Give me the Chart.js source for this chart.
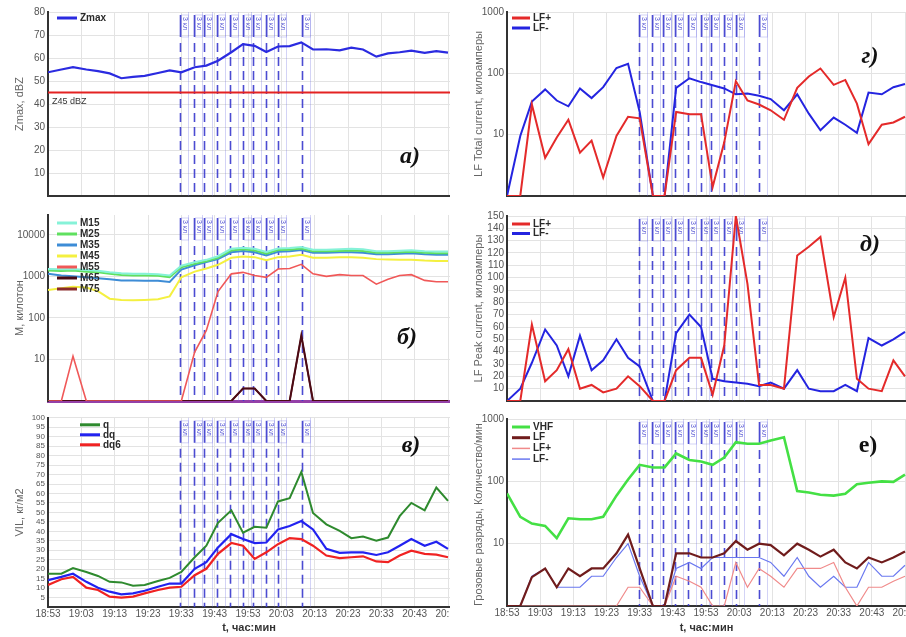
<!DOCTYPE html>
<html><head><meta charset="utf-8">
<script src="https://cdn.jsdelivr.net/npm/chart.js@4.4.1/dist/chart.umd.min.js"></script>
<style>
html,body{margin:0;padding:0;background:#fff;}
body{width:906px;height:637px;position:relative;overflow:hidden;}
.pane{position:absolute;overflow:hidden;background:#fff;}
.pane canvas{display:block;}
</style></head><body>
<div class="pane" style="left:0;top:0;width:450px;height:205px"><canvas id="cA" width="480" height="205"></canvas></div>
<div class="pane" style="left:0;top:206px;width:450px;height:204px"><canvas id="cB" width="480" height="204"></canvas></div>
<div class="pane" style="left:0;top:410px;width:450px;height:227px"><canvas id="cV" width="480" height="227"></canvas></div>
<div class="pane" style="left:459px;top:0;width:447px;height:205px"><canvas id="cG" width="480" height="205"></canvas></div>
<div class="pane" style="left:459px;top:206px;width:447px;height:204px"><canvas id="cD" width="480" height="204"></canvas></div>
<div class="pane" style="left:459px;top:410px;width:447px;height:227px"><canvas id="cE" width="480" height="227"></canvas></div>
<script>
// minutes after 18:53
const times=[0,4,7.5,11.5,15,18.5,22,25.5,29,33,36.5,40,44,47.5,51,55,58.5,62,65.5,69,72.5,76,79.5,83.5,87.5,91,94.5,98.5,102,105.5,109,113,116.5,120];
const tickLabels=['18:53','19:03','19:13','19:23','19:33','19:43','19:53','20:03','20:13','20:23','20:33','20:43','20:53'];
const events=[39.7,43.7,46.9,50.6,54.6,58.6,61.6,65.4,69.0,76.1];
const eventText='3 кл';

const zmax=[53.8,55,56,55,54.3,53.3,51.2,51.8,52.2,53.5,54.6,53.8,56,56.7,58.8,62.5,66,65.3,62.6,65,65.2,66.8,63.7,63.8,63.3,64.5,63.7,60.6,62,62.5,63.2,62.2,63,62.3];
const z45=45;

const m15=[1500,1480,1500,1420,1370,1260,1190,1150,1150,1130,1050,1800,2200,2500,3050,4600,4900,4600,3850,4700,4800,5100,4400,4400,4500,4600,4500,4050,4050,4150,4250,4050,3950,3950];
const m25=[1380,1350,1380,1300,1250,1150,1080,1050,1050,1030,960,1650,2000,2300,2800,4200,4500,4200,3500,4300,4400,4700,4000,4000,4100,4200,4100,3700,3700,3800,3900,3700,3600,3600];
const m35=[1150,1050,1000,950,900,850,800,790,780,780,730,1450,1850,2200,2600,3800,4100,3800,3200,3900,4000,4300,3700,3700,3800,3800,3700,3400,3400,3500,3600,3400,3300,3300];
const m45=[470,520,560,540,440,290,270,265,270,280,330,950,1300,1550,1900,2800,3000,2900,2450,2900,3000,3300,2800,2800,2900,2900,2800,2600,2550,2500,2500,2400,2350,2350];
const m55=[1,1,12,1,1,1,1,1,1,1,1,1,15,50,430,1150,1250,1050,950,1500,1550,1950,1150,1000,1100,1050,1050,650,850,1050,1100,800,740,740];
const m65=[1,1,1,1,1,1,1,1,1,1,1,1,1,1,1,1,2,2,1,1,1,38,1,1,1,1,1,1,1,1,1,1,1,1];
const m75=[1,1,1,1,1,1,1,1,1,1,1,1,1,1,1,1,2,2,1,1,1,36,1,1,1,1,1,1,1,1,1,1,1,1];

const vilQ=[17.6,17.6,20.6,18.5,16.4,13.3,13,11.2,11.6,13.7,15.4,18.5,26.3,32.4,44.5,51.1,39.3,42.4,41.9,55.8,57.5,71.4,49.7,43.7,40.2,36.4,37.2,35,36.7,48,55,51.1,63.1,56.1];
const vilDq=[14.2,15.9,17.6,13.3,10.2,8.1,6.7,7.2,8.6,10.7,12.4,12.4,20.2,23.7,31.5,38.5,35.9,33.8,34.1,41,42.8,45.4,41,30.7,28.6,28.9,28.9,27.5,28.9,32.4,35.9,32.4,34.5,30.7];
const vilDq6=[11.6,14.7,15.9,10.2,9,5.5,5,5.5,7.2,9,10.2,10.7,16.8,20.2,28.1,33.8,32.4,25.4,28.9,33.2,36.4,35.9,32.4,27.2,25.8,26.3,26.8,24.1,23.7,27.2,29.8,28.1,27.7,26.3];

const lfTotPos=[1,1,31,4.2,9,17.5,5.1,8,2,9.5,19.6,18.5,1,1,23.5,21.6,21.6,1.4,7.5,74,36,31,25,17.5,58,89,120,65,78,32,7,14.5,15.8,19.6];
const lfTotNeg=[1,9.5,34.6,54.7,36,29,56.7,39.5,59.5,122,143,23.5,1,1,58,83,72,64,56.7,45.5,47,43,38,25,45.5,22,11.8,19,14.5,10.7,48.5,45.5,59.5,67];

const lfPeakPos=[0,0,62,16,25,42,10,13,7,10,20,12,0,0,25,35,35,5,45,150,95,13,13,10,118,125,133,68,100,18,10,8,33,20];
const lfPeakNeg=[0,10,31,58,45,20,53,25,33,50,35,28,0,0,55,70,60,18,16,15,14,12,15,10,25,10,8,8,13,8,51,45,50,56];

const cntVhf=[64,27,21,19.3,12.3,25.5,24.6,24.6,27,59,107,184,167,167,280,220,208,184,241,425,400,400,450,510,70,66,61,59,63,90,95,100,98,128];
const cntLf=[1,1,2.9,4,2,4,3,4,4,7,14,4,1,1,7,7,6,6,7,11,8,10,9.5,6.5,10,8,6.2,8,5,4,6,5,6,7.5];
const cntLfPos=[1,1,1,1,1,1,1,1,1,1,2,2,1,1,3,2.5,2,1,1,5,2,4,3,2,4,4,4,5,2,1,2,2,2.5,3];
const cntLfNeg=[1,1,3,4,2,2,2,3,3,6,10,3,1,1,4,5,4,6,6,6,6,6,5,3,6,3,2,3,2,2,5,3,3,4.5];

const ticksM=[1,10,100,1000,10000];
const ticksLF=[1,10,100,1000];

Chart.defaults.font.family="Arial, 'Liberation Sans', sans-serif";
Chart.defaults.animation=false;

function pts(vals){return vals.map((y,i)=>({x:times[i],y}));}
function line(label,vals,color,w,extra){
  return Object.assign({label,data:pts(vals),borderColor:color,backgroundColor:color,borderWidth:w,pointRadius:0,tension:0,fill:false},extra||{});
}

const eventPlugin={id:'events',beforeDatasetsDraw(chart){
  const {ctx,chartArea:a,scales:{x}}=chart;
  ctx.save();
  events.forEach(t=>{
    const px=Math.round(x.getPixelForValue(t))+0.5;
    ctx.strokeStyle='rgba(110,110,225,0.3)';ctx.lineWidth=1;
    ctx.beginPath();ctx.moveTo(px+8,a.top);ctx.lineTo(px+8,a.bottom);ctx.stroke();
    ctx.strokeRect(px+1,a.top+3,7,22);
    ctx.strokeStyle='rgba(55,55,205,0.9)';ctx.lineWidth=1.6;
    ctx.setLineDash([]);
    ctx.beginPath();ctx.moveTo(px,a.top+3);ctx.lineTo(px,a.top+25);ctx.stroke();
    ctx.setLineDash([9,5]);
    ctx.beginPath();ctx.moveTo(px,a.top+31);ctx.lineTo(px,a.bottom);ctx.stroke();
    ctx.setLineDash([]);
    ctx.save();ctx.translate(px+4.5,a.top+5);ctx.rotate(Math.PI/2);
    ctx.fillStyle='rgba(55,55,205,0.85)';ctx.font='7px Arial';ctx.textBaseline='middle';
    ctx.fillText(eventText,0,0);ctx.restore();
  });
  ctx.restore();
}};

const legendPlugin={id:'inlegend',afterDatasetsDraw(chart,args,o){
  const {ctx,chartArea:a}=chart;
  ctx.save();ctx.font=o.font||'bold 10px Arial';ctx.textBaseline='middle';
  let y=a.top+o.y;
  chart.data.datasets.forEach(ds=>{
    if(ds.noLegend) return;
    ctx.strokeStyle=ds.borderColor;ctx.lineWidth=ds.legendWidth||3;
    ctx.beginPath();ctx.moveTo(a.left+o.x,y);ctx.lineTo(a.left+o.x+o.len,y);ctx.stroke();
    ctx.fillStyle='#2a2a2a';ctx.fillText(ds.label,a.left+o.x+o.len+3,y);
    y+=o.step;
  });
  ctx.restore();
}};

const tagPlugin={id:'tag',afterDraw(chart,args,o){
  const ctx=chart.ctx;
  ctx.save();ctx.fillStyle='#111';ctx.font=o.font;ctx.textAlign='center';ctx.textBaseline='middle';
  ctx.fillText(o.text,o.x,o.y);
  if(o.note){
    const y=chart.scales.y.getPixelForValue(z45);
    ctx.font='9px Arial';ctx.textAlign='left';ctx.fillStyle='#333';
    ctx.fillText(o.note,chart.chartArea.left+4,y+9);
  }
  ctx.restore();
}};

function xScale(max,showLabels,h,borderColor,borderWidth){
  return {type:'linear',min:0,max,
    ticks:{display:showLabels,stepSize:10,includeBounds:false,autoSkip:false,maxRotation:0,padding:1,color:'#555',font:{size:10},
      callback:v=>tickLabels[Math.round(v/10)]},
    grid:{color:'#e3e3e3',drawTicks:false},
    border:{color:borderColor||'#333',width:borderWidth||2},
    title:{display:showLabels,text:'t, час:мин',color:'#333',font:{size:11,weight:'bold'},padding:{top:0,bottom:2}},
    afterFit:s=>{s.height=h;}};
}
function yLin(max,step,title,fs){
  return {type:'linear',min:0,max,
    ticks:{stepSize:step,autoSkip:false,padding:3,color:'#555',font:{size:fs},callback:v=>v===0?'':v},
    grid:{color:'#e3e3e3',drawTicks:false},
    border:{color:'#333',width:2},
    title:{display:true,text:title,color:'#666',font:{size:11},padding:{top:13,bottom:0}},
    afterFit:s=>{s.width=48;}};
}
function yLog(max,tickVals,title,align){
  return {type:'logarithmic',min:1,max,
    afterBuildTicks:s=>{s.ticks=tickVals.map(v=>({value:v}));},
    ticks:{autoSkip:false,padding:3,color:'#555',font:{size:10},callback:v=>v===1?'':String(v)},
    grid:{color:'#e3e3e3',drawTicks:false},
    border:{color:'#333',width:2},
    title:{display:true,text:title,color:'#666',font:{size:11},align:align||'center',padding:{top:13,bottom:0}},
    afterFit:s=>{s.width=48;}};
}
function make(id,datasets,scales,pad,legend,tag){
  return new Chart(document.getElementById(id),{type:'line',data:{datasets},
    options:{responsive:false,animation:false,
      layout:{padding:pad},
      plugins:{legend:{display:false},tooltip:{enabled:false},inlegend:legend,tag},
      scales},
    plugins:[eventPlugin,legendPlugin,tagPlugin]});
}
const tagFont='italic bold 24px "Liberation Serif", "DejaVu Serif", serif';
const LMAX=120.6, RMAX=120.3;

// а) Zmax
make('cA',[
  line('Zmax',zmax,'#2b2be0',2.2),
  {label:'Z45',data:[{x:0,y:z45},{x:LMAX,y:z45}],borderColor:'#e42222',borderWidth:2.2,pointRadius:0,noLegend:true}
],{x:xScale(LMAX,false,2),y:yLin(80,10,'Zmax, dBZ',10)},{top:12,right:30,left:0,bottom:0},
{x:9,y:6,len:20,step:10},{text:'а)',x:410,y:157,font:tagFont,note:'Z45 dBZ'});

// б) M
make('cB',[
  line('M15',m15,'#86f2d8',2),
  line('M25',m25,'#5fe05f',2),
  line('M35',m35,'#3d8cd6',2),
  line('M45',m45,'#f4f040',2),
  line('M55',m55,'#f05858',1.6),
  line('M65',m65,'#4a0a14',2),
  line('M75',m75,'#8a2a2a',1.6)
],{x:xScale(LMAX,false,5,'#9440a8',3),y:yLog(30000,ticksM,'M, килотон')},{top:7,right:30,left:0,bottom:0},
{x:9,y:8,len:20,step:11},{text:'б)',x:407,y:132,font:tagFont});

// в) VIL
make('cV',[
  line('q',vilQ,'#2e8a2e',2),
  line('dq',vilDq,'#2222f0',2.2),
  line('dq6',vilDq6,'#f02222',2.2)
],{x:xScale(LMAX,true,30),y:yLin(100,5,'VIL, кг/м2',8)},{top:5,right:30,left:0,bottom:0},
{x:32,y:7,len:20,step:10},{text:'в)',x:411,y:36,font:tagFont});

// г) LF total
make('cG',[
  line('LF+',lfTotPos,'#e42a2a',2),
  line('LF-',lfTotNeg,'#2424e0',2)
],{x:xScale(RMAX,false,2),y:yLog(1000,ticksLF,'LF Total current, килоамперы')},{top:12,right:33,left:0,bottom:0},
{x:5,y:6,len:18,step:10},{text:'г)',x:411,y:57,font:tagFont});

// д) LF peak
make('cD',[
  line('LF+',lfPeakPos,'#e42a2a',2),
  line('LF-',lfPeakNeg,'#2424e0',2)
],{x:xScale(RMAX,false,4),y:yLin(150,10,'LF Peak current, килоамперы',10)},{top:10,right:33,left:0,bottom:0},
{x:5,y:8,len:18,step:9.5},{text:'д)',x:411,y:39,font:tagFont});

// е) counts
make('cE',[
  line('VHF',cntVhf,'#44e044',2.6,{legendWidth:3}),
  line('LF',cntLf,'#701c1c',2.2,{legendWidth:3}),
  line('LF+',cntLfPos,'#f08a8a',1.2,{legendWidth:1.5}),
  line('LF-',cntLfNeg,'#6a78f0',1.2,{legendWidth:1.5})
],{x:xScale(RMAX,true,31),y:yLog(1000,ticksLF,'Грозовые разряды, Количество/мин','start')},{top:5,right:33,left:0,bottom:0},
{x:5,y:8,len:18,step:10.7},{text:'е)',x:409,y:36,font:'bold 24px "Liberation Serif", "DejaVu Serif", serif'});
</script>
</body></html>
